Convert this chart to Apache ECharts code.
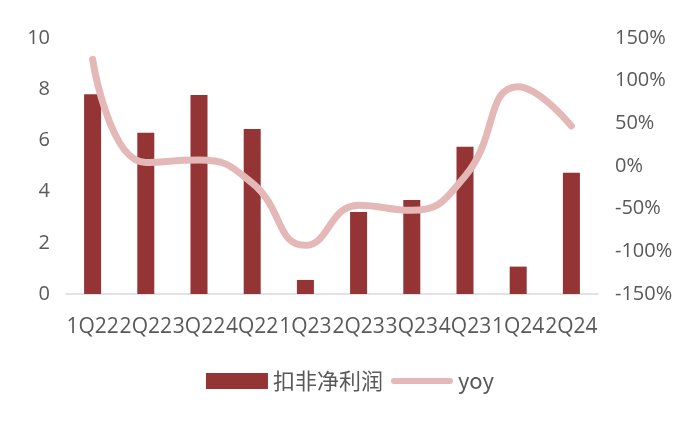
<!DOCTYPE html>
<html>
<head>
<meta charset="utf-8">
<script src="https://cdn.jsdelivr.net/npm/echarts@6/dist/echarts.min.js"></script>
<style>
  html, body { margin: 0; padding: 0; background: #fff; }
  #main { width: 700px; height: 427px; }
</style>
</head>
<body>
<div id="main"></div>
<script>
// quarters
var quarters = ['1Q22', '2Q22', '3Q22', '4Q22', '1Q23', '2Q23', '3Q23', '4Q23', '1Q24', '2Q24'];
// 扣非净利润 (left axis)
var profit = [7.8, 6.3, 7.77, 6.45, 0.55, 3.2, 3.67, 5.75, 1.07, 4.74];
// yoy, percent (right axis)
var yoy = [125, 4, 7, -20, -93, -46, -52, -12, 93, 47];

var textColor = '#595959';
var chart = echarts.init(document.getElementById('main'));
chart.setOption({
  animation: false,
  grid: { left: 66, right: 102, top: 38, bottom: 133 },
  legend: {
    bottom: 30,
    left: 'center',
    itemWidth: 62,
    itemHeight: 16,
    itemGap: 8,
    textStyle: { fontFamily: 'Noto Sans CJK SC', fontSize: 22, color: textColor },
    data: [
      { name: '扣非净利润', icon: 'rect' },
      { name: 'yoy', icon: 'path://M3,0 L59,0 A3,3 0 0 1 59,6 L3,6 A3,3 0 0 1 3,0 Z' }
    ]
  },
  xAxis: {
    type: 'category',
    data: quarters,
    axisTick: { show: false },
    axisLine: { lineStyle: { color: '#d9d9d9', width: 1.5 } },
    axisLabel: {
      interval: 0,
      margin: 23,
      color: textColor,
      fontFamily: 'Open Sans',
      fontSize: 21
    }
  },
  yAxis: [
    {
      type: 'value',
      min: 0,
      max: 10,
      interval: 2,
      splitLine: { show: false },
      axisLine: { show: false },
      axisTick: { show: false },
      axisLabel: { margin: 16, color: textColor, fontFamily: 'Open Sans', fontSize: 20 }
    },
    {
      type: 'value',
      min: -150,
      max: 150,
      interval: 50,
      splitLine: { show: false },
      axisLine: { show: false },
      axisTick: { show: false },
      axisLabel: {
        margin: 17,
        color: textColor,
        fontFamily: 'Open Sans',
        fontSize: 20,
        formatter: function (v) { return v + '%'; }
      }
    }
  ],
  series: [
    {
      name: '扣非净利润',
      type: 'bar',
      data: profit,
      barWidth: 17,
      itemStyle: { color: '#943434' }
    },
    {
      name: 'yoy',
      type: 'line',
      yAxisIndex: 1,
      data: yoy,
      smooth: 0.5,
      symbol: 'none',
      lineStyle: { color: '#e5b8b8', width: 7, cap: 'round' },
      itemStyle: { color: '#e5b8b8' }
    }
  ]
});
</script>
</body>
</html>
